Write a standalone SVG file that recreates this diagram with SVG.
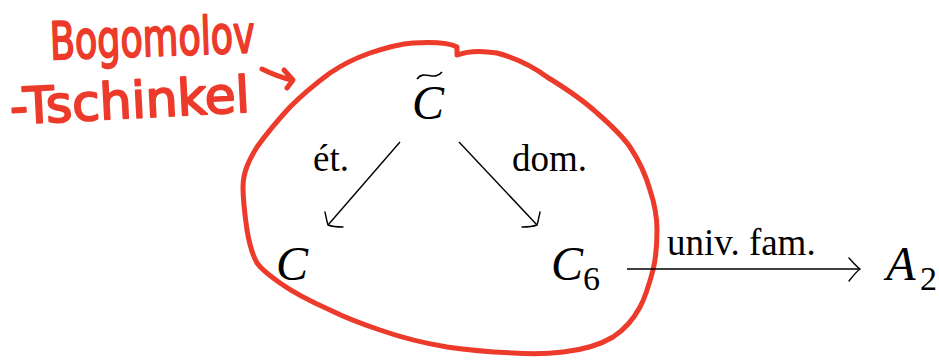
<svg xmlns="http://www.w3.org/2000/svg" width="939" height="360" viewBox="0 0 939 360">
<style>
.math{font-family:"Liberation Serif","DejaVu Serif",serif;font-style:italic;font-size:48px;fill:#000}
.sub{font-family:"Liberation Serif","DejaVu Serif",serif;font-size:34px;fill:#000}
.lbl{font-family:"Liberation Serif","DejaVu Serif",serif;font-size:37px;fill:#000}
.edge{fill:none;stroke:#000;stroke-width:1.4}
.head{fill:none;stroke:#000;stroke-width:1.4;stroke-linecap:round}
.ink{fill:none;stroke:#EC3A2B;stroke-width:5;stroke-linecap:round;stroke-linejoin:round}
.hand{font-family:"DejaVu Sans","Liberation Sans",sans-serif;fill:#EC3A2B;stroke:#EC3A2B;stroke-width:2;stroke-linejoin:round}
</style>
<rect width="939" height="360" fill="#fff"/>
<g id="annotation">
<text class="hand" x="50" y="56" font-size="52" textLength="205" lengthAdjust="spacingAndGlyphs" transform="rotate(-2 150 45)">Bogomolov</text>
<text class="hand" x="10" y="118" font-size="50" textLength="240" lengthAdjust="spacingAndGlyphs" transform="rotate(-3 130 105)">-Tschinkel</text>
<path class="ink" d="M262,69 Q278,77 292,80 M284,70 L293,80 L287,88"/>
<path class="ink" d="M413,43 C430,42 448,42 457,47 L457,55 C470,50 485,51 497,53 C515,58 532,66 547,77 C565,88 583,100 597,113 C612,126 623,137 630,147 C640,162 646,176 650,190 C655,205 657,218 657,230 C657,245 656,258 653,270 C649,285 646,296 640,307 C633,320 624,330 613,337 C598,346 582,350 563,352 C547,354 530,354 513,353 C490,352 468,350 447,347 C423,343 400,337 380,330 C362,324 346,318 330,310 C312,302 294,293 280,283 C270,276 262,270 257,263 C251,252 249,242 247,230 C245,216 243,201 243,187 C243,172 249,160 257,147 C267,133 278,120 290,107 C302,95 315,84 330,73 C343,64 356,58 370,53 C385,48 398,44 413,43 Z"/>
</g>
<g id="connectors">
<path class="edge" d="M400,142 L328,225"/>
<path class="head" d="M325,212 Q327,222 328,225 Q333,227 343,227"/>
<path class="edge" d="M459,142 L537,225"/>
<path class="head" d="M540,212 Q538,222 537,225 Q532,227 522,227"/>
<path class="edge" d="M627,269 L860,269"/>
<path class="head" d="M849,258 Q856,266 860,269 Q856,272 849,281"/>
<text class="lbl" x="313" y="171">ét.</text>
<text class="lbl" x="512" y="171">dom.</text>
<text class="lbl" x="667" y="255" font-size="36">univ. fam.</text>
</g>
<g id="n-ctilde">
<text class="math" x="428" y="119" text-anchor="middle">C</text>
<path d="M417,79 C424,69 434,82 442,72" fill="none" stroke="#000" stroke-width="1.6"/>
</g>
<g id="n-c">
<text class="math" x="292" y="280" text-anchor="middle">C</text>
</g>
<g id="n-c6">
<text class="math" x="567" y="280" text-anchor="middle">C</text>
<text class="sub" x="583" y="290">6</text>
</g>
<g id="n-a2">
<text class="math" x="901" y="280" text-anchor="middle">A</text>
<text class="sub" x="920" y="290">2</text>
</g>
</svg>
